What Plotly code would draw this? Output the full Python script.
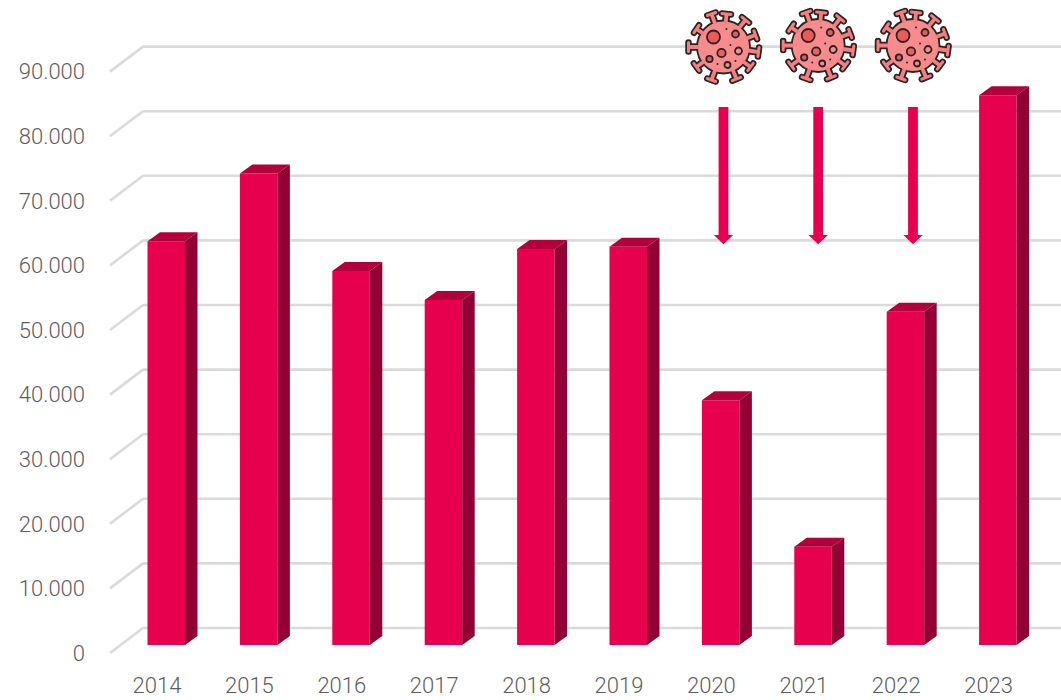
import base64, math
import plotly.graph_objects as go

# ---- data ----
years = [2014, 2015, 2016, 2017, 2018, 2019, 2020, 2021, 2022, 2023]
values = [62500, 73000, 57900, 53400, 61300, 61650, 37900, 15200, 51600, 85100]
y_ticks = [0, 10000, 20000, 30000, 40000, 50000, 60000, 70000, 80000, 90000]
covid_years = [2020, 2021, 2022]

# ---- page geometry ----
W, H = 1061, 700
ML, MB = 86, 30
PX_PER_YEAR = 92.4
PX_PER_UNIT = 64.6 / 10000
X0_PX, Y0_PX = 157.0, 653.0     # pixel of year 2014 tick and of value 0 (front plane)

def xd(dpx):  # pixel distance to year units
    return dpx / PX_PER_YEAR
def yd(dpx):  # pixel distance to value units
    return dpx / PX_PER_UNIT

x_range = [2014 + (ML - X0_PX) / PX_PER_YEAR, 2014 + (W - X0_PX) / PX_PER_YEAR]
y_range = [(Y0_PX - (H - MB)) / PX_PER_UNIT, Y0_PX / PX_PER_UNIT]

RED, TOP, SIDE = "#E6004D", "#B2003C", "#930033"
GRID = "#DADADA"
TEXT = "#5E5E5E"
FONT = dict(family="Roboto", size=22, color=TEXT, weight=300)

BAR_OFFSET = -9.5 / PX_PER_YEAR
BAR_WIDTH = 37.5 / PX_PER_YEAR
BASE = yd(8)
DX, DY = xd(12.5), yd(9)

fig = go.Figure()

# front faces
fig.add_trace(go.Bar(x=years, y=values, base=BASE, offset=BAR_OFFSET, width=BAR_WIDTH,
                     marker=dict(color=RED, line=dict(width=0)), hoverinfo="x+y"))

# top and side faces, one polygon each per bar
for yr, v in zip(years, values):
    xl = yr + BAR_OFFSET
    xr = xl + BAR_WIDTH
    t = BASE + v
    fig.add_trace(go.Scatter(x=[xl, xr, xr + DX, xl + DX, xl], y=[t, t, t + DY, t + DY, t],
                             mode="lines", line=dict(width=0), fill="toself", fillcolor=TOP,
                             hoverinfo="skip"))
    fig.add_trace(go.Scatter(x=[xr, xr + DX, xr + DX, xr, xr],
                             y=[BASE, BASE + DY, t + DY, t, BASE],
                             mode="lines", line=dict(width=0), fill="toself", fillcolor=SIDE,
                             hoverinfo="skip"))

# gridlines: left floor/side diagonal plus back wall line
GRID_DX, GRID_DY = xd(33), yd(25)
x_axis_left = 2014 + (110 - X0_PX) / PX_PER_YEAR
shapes = []
for t in y_ticks:
    shapes.append(dict(type="line", layer="below", xref="x", yref="y",
                       x0=x_axis_left, y0=t, x1=x_axis_left + GRID_DX, y1=t + GRID_DY,
                       line=dict(color=GRID, width=2.6)))
    shapes.append(dict(type="line", layer="below", xref="x", yref="y",
                       x0=x_axis_left + GRID_DX, y0=t + GRID_DY, x1=x_range[1], y1=t + GRID_DY,
                       line=dict(color=GRID, width=2.6)))

# arrows from the icons down towards the pre-pandemic level
ARROW_X_PX = [723.5, 818.2, 913.0]
def val_at(py):
    return (Y0_PX - py) / PX_PER_UNIT
a_top, a_neck, a_tip = val_at(107), val_at(235), val_at(244.3)
for apx in ARROW_X_PX:
    c = 2014 + (apx - X0_PX) / PX_PER_YEAR
    s, h = xd(4.9), xd(9.7)
    fig.add_trace(go.Scatter(
        x=[c - s, c + s, c + s, c + h, c, c - h, c - s, c - s],
        y=[a_top, a_top, a_neck, a_neck, a_tip, a_neck, a_neck, a_top],
        mode="lines", line=dict(width=0), fill="toself", fillcolor=RED, hoverinfo="skip"))

# virus icon as an inline SVG
spikes = [(-12, -33), (3, -33), (22, -27), (32, -12), (35, 5), (27, 20), (13, 32),
          (-12, 33), (-27, 20), (-35, 0), (-27, -18)]
spots = [(-10, -10, 6.5, "#EE5A5A"), (12, -13, 3.5, "#D96060"), (-2, 6, 4.2, "#E86060"),
         (15, 4, 3.5, "#F58F8F"), (-14, 12, 3.2, "#D96060"), (4, 18, 3, "#F58F8F")]
dots = [(3, -18), (7, -2), (12, 14), (-6, 17)]
parts = []
OUT = "#2B2324"
for sx, sy in spikes:
    a = math.atan2(sy, sx)
    nx, ny = -math.sin(a), math.cos(a)
    parts.append(f'<line x1="0" y1="0" x2="{sx}" y2="{sy}" stroke="{OUT}" stroke-width="7.5"/>')
    parts.append(f'<line x1="{sx+nx*4.5:.1f}" y1="{sy+ny*4.5:.1f}" x2="{sx-nx*4.5:.1f}" y2="{sy-ny*4.5:.1f}" '
                 f'stroke="{OUT}" stroke-width="6.5" stroke-linecap="round"/>')
parts.append(f'<circle r="26.5" fill="#F88C8C" stroke="{OUT}" stroke-width="1.8"/>')
for sx, sy in spikes:
    a = math.atan2(sy, sx)
    nx, ny = -math.sin(a), math.cos(a)
    parts.append(f'<line x1="{sx*0.7:.1f}" y1="{sy*0.7:.1f}" x2="{sx}" y2="{sy}" stroke="#F47F7F" stroke-width="3.8"/>')
    parts.append(f'<line x1="{sx+nx*4.5:.1f}" y1="{sy+ny*4.5:.1f}" x2="{sx-nx*4.5:.1f}" y2="{sy-ny*4.5:.1f}" '
                 f'stroke="#F47F7F" stroke-width="3" stroke-linecap="round"/>')
for sx, sy, r, col in spots:
    parts.append(f'<circle cx="{sx}" cy="{sy}" r="{r}" fill="{col}" stroke="{OUT}" stroke-width="1.8"/>')
for sx, sy in dots:
    parts.append(f'<circle cx="{sx}" cy="{sy}" r="1" fill="{OUT}"/>')
svg = ('<svg xmlns="http://www.w3.org/2000/svg" width="160" height="160" viewBox="-40 -40 80 80">'
       + "".join(parts) + "</svg>")
uri = "data:image/svg+xml;base64," + base64.b64encode(svg.encode()).decode()

images = []
for cx, cy in zip(ARROW_X_PX, [47, 45.5, 45.5]):
    images.append(dict(source=uri, xref="x", yref="y",
                       x=2014 + (cx - X0_PX) / PX_PER_YEAR, y=val_at(cy),
                       sizex=xd(80), sizey=yd(80), sizing="stretch",
                       xanchor="center", yanchor="middle", layer="above"))

fig.update_layout(
    width=W, height=H, showlegend=False, autosize=False,
    margin=dict(l=ML, r=0, t=0, b=MB, pad=0),
    paper_bgcolor="white", plot_bgcolor="white",
    separators=",.",
    shapes=shapes, images=images,
    xaxis=dict(range=x_range, tickmode="array", tickvals=years, ticktext=[str(y) for y in years],
               showgrid=False, zeroline=False, showline=False, ticks="", tickfont=FONT, fixedrange=True),
    yaxis=dict(range=y_range, tickmode="array", tickvals=y_ticks, tickformat=",d",
               showgrid=False, zeroline=False, showline=False, ticks="", tickfont=FONT, fixedrange=True),
)

fig.write_html("out.html", config=dict(displayModeBar=False),
               post_script="document.body.style.margin='0';")
